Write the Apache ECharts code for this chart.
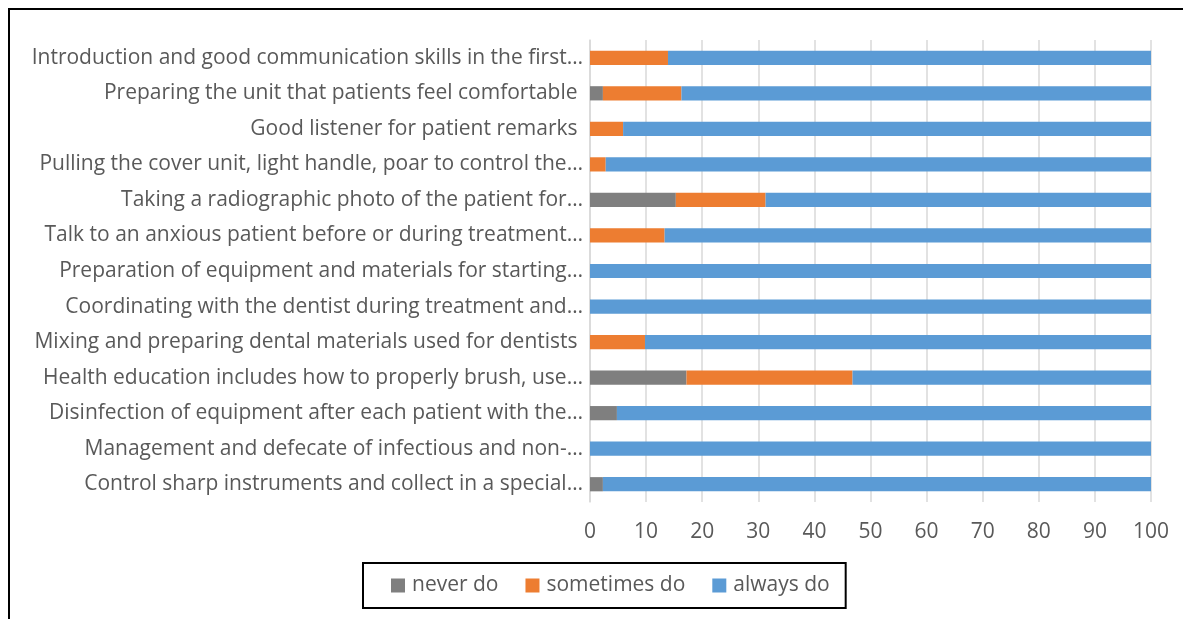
<!DOCTYPE html>
<html><head><meta charset="utf-8">
<script src="https://cdn.jsdelivr.net/npm/echarts@6/dist/echarts.min.js"></script>
<style>html,body{margin:0;padding:0;background:#fff}#c{width:1183px;height:619px}</style>
</head><body><div id="c"></div>
<script>
const categories = [
  "Introduction and good communication skills in the first…",
  "Preparing the unit that patients feel comfortable ",
  "Good listener for patient remarks ",
  "Pulling the cover unit, light handle, poar to control the…",
  "Taking a radiographic photo of the patient for…",
  "Talk to an anxious patient before or during treatment…",
  "Preparation of equipment and materials for starting…",
  "Coordinating with the dentist during treatment and…",
  "Mixing and preparing dental materials used for dentists ",
  "Health education includes how to properly brush, use…",
  "Disinfection of equipment after each patient with the…",
  "Management and defecate of infectious and non-…",
  "Control sharp instruments and collect in a special…"
];
const neverDo     = [0, 2.3, 0, 0, 15.3, 0, 0, 0, 0, 17.2, 4.8, 0, 2.3];
const sometimesDo = [13.9, 14.0, 5.9, 2.8, 16.0, 13.3, 0, 0, 9.8, 29.6, 0, 0, 0];
const alwaysDo    = [86.1, 83.7, 94.1, 97.2, 68.7, 86.7, 100, 100, 90.2, 53.2, 95.2, 100, 97.7];
const seriesNames = ["never do", "sometimes do", "always do"];
const xTicks = {min: 0, max: 100, interval: 10};

const chart = echarts.init(document.getElementById('c'), null, {renderer: 'canvas'});
const font = "'Open Sans', 'Noto Sans', sans-serif";
const mk = (name, data, color) => ({
  name, type: 'bar', stack: 'total', data, barCategoryGap: '60%',
  itemStyle: {color}, emphasis: {disabled: true}
});
chart.setOption({
  animation: false,
  graphic: [{type: 'rect', shape: {x: 9, y: 9, width: 1300, height: 800},
    style: {fill: 'none', stroke: '#000', lineWidth: 2}, silent: true}],
  grid: {left: 590, right: 32, top: 40, bottom: 117, containLabel: false},
  xAxis: {type: 'value', min: xTicks.min, max: xTicks.max, interval: xTicks.interval,
    axisLine: {show: false}, axisTick: {show: false},
    axisLabel: {color: '#595959', fontSize: 21, fontFamily: font, margin: 20},
    splitLine: {lineStyle: {color: '#d9d9d9', width: 1.5}}},
  yAxis: {type: 'category', data: categories, inverse: true,
    axisLine: {show: true, lineStyle: {color: '#d9d9d9', width: 1.5}}, axisTick: {show: false},
    axisLabel: {color: '#595959', fontSize: 21, fontFamily: font, margin: 7}},
  legend: {data: seriesNames, left: 363, top: 563,
    borderColor: '#000', borderWidth: 2, padding: [12, 16, 12, 28],
    itemWidth: 14, itemHeight: 14, itemGap: 27,
    textStyle: {color: '#595959', fontSize: 21, fontFamily: font, padding: [0, 0, 0, 2]},
    icon: 'rect'},
  series: [
    mk(seriesNames[0], neverDo, '#7f7f7f'),
    mk(seriesNames[1], sometimesDo, '#ed7d31'),
    mk(seriesNames[2], alwaysDo, '#5b9bd5')
  ]
});
</script></body></html>
